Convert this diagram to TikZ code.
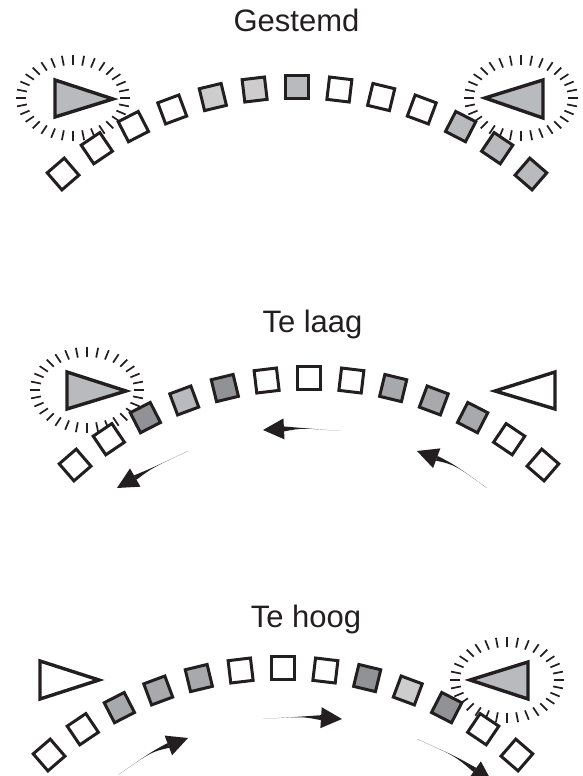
\documentclass[tikz,border=0pt]{standalone}
\usepackage{fontspec}
\setmainfont{Liberation Sans}
\usetikzlibrary{calc}

\definecolor{inkBlack}{RGB}{35,31,32}
\definecolor{paleGray}{RGB}{205,205,205}
\definecolor{blueGray}{RGB}{185,186,190}
\definecolor{midGray}{RGB}{168,169,172}
\definecolor{darkGray}{RGB}{145,146,150}

\tikzset{
  tile/.style={shape=rectangle, draw=inkBlack, line width=3pt, minimum size=22.5pt,
    inner sep=0pt, outer sep=0pt},
  marker/.style={draw=inkBlack, line width=3.4pt, line join=miter, fill=#1},
  tickmark/.style={draw=inkBlack, line width=1.7pt},
  title/.style={font=\fontsize{31}{36}\selectfont, text=inkBlack, anchor=base, inner sep=0pt},
}

% ring of short radial strokes around a marker
\newcommand\tickring[1]{%
  \begin{scope}[shift={(#1)}]
    \foreach \a in {0,11.25,...,350}
      \draw[tickmark] (\a:47 and 33) -- (\a:57 and 43);
  \end{scope}}

% thirteen tiles on an arc of radius 358 around (#2,#3)
\newcommand\tilerow[4]{%
  \begin{scope}[shift={(#2,#3)}]
    \foreach \c [count=\i] in {#4} {
      \pgfmathsetmacro\ang{90+6.8*(7-\i)}
      \node[tile, fill=\c, rotate=\ang-90] (#1\i) at (\ang:358) {};
    }
  \end{scope}}

% tapered curved arrow: tail, bend control, tip
\newcommand\swoosh[3]{%
  \coordinate (hb) at ($(#3)!21pt!(#2)$);
  \fill[inkBlack] ($(hb)!2.5pt!90:(#2)$) .. controls (#2) .. (#1)
     .. controls (#2) .. ($(hb)!2.5pt!-90:(#2)$) -- cycle;
  \fill[inkBlack] (#3) -- ($(hb)!10.5pt!90:(#2)$) -- ($(hb)!10.5pt!-90:(#2)$) -- cycle;}

\begin{document}
\begin{tikzpicture}[x=1pt, y=1pt]
\useasboundingbox (0,0) rectangle (583,776);

% ---------- Gestemd ----------
\node[title] (hdA) at (296.5,744) {Gestemd};
\tickring{73,678}
\tickring{521,678}
\tilerow{a}{297}{331}{white,white,white,white,paleGray,paleGray,blueGray,white,white,white,blueGray,blueGray,blueGray}
\draw[marker=blueGray] (55,696) -- (113,677) -- (55,659) -- cycle;
\draw[marker=blueGray] (543,696) -- (485,678) -- (543,658) -- cycle;

% ---------- Te laag ----------
\node[title] (hdB) at (312.5,443) {Te laag};
\tickring{87,386}
\tilerow{b}{309}{40}{white,white,darkGray,blueGray,darkGray,white,white,white,midGray,midGray,midGray,white,white}
\draw[marker=blueGray] (67,404) -- (126,385) -- (67,367) -- cycle;
\draw[marker=white] (555,404) -- (495,385) -- (555,367) -- cycle;

\coordinate (bmT) at (340,345); \coordinate (bmC) at (302,348); \coordinate (bmH) at (263,346);
\coordinate (blT) at (188,325); \coordinate (blC) at (152,308); \coordinate (blH) at (117,288);
\coordinate (brT) at (487,288); \coordinate (brC) at (455,311); \coordinate (brH) at (417,325);
\swoosh{bmT}{bmC}{bmH}
\swoosh{blT}{blC}{blH}
\swoosh{brT}{brC}{brH}

% ---------- Te hoog ----------
\node[title] (hdC) at (306,148) {Te hoog};
\tickring{507,96}
\tilerow{c}{283}{-250}{white,white,midGray,midGray,midGray,white,white,white,darkGray,paleGray,darkGray,white,white}
\draw[marker=white] (40,115) -- (99,96) -- (40,77) -- cycle;
\draw[marker=blueGray] (528,114) -- (470,96) -- (528,77) -- cycle;

\coordinate (cmT) at (263,57); \coordinate (cmC) at (302.5,59.5); \coordinate (cmH) at (342,57);
\coordinate (clT) at (118,1);  \coordinate (clC) at (151,24);  \coordinate (clH) at (188,38);
\coordinate (crT) at (417,37); \coordinate (crC) at (455,20);  \coordinate (crH) at (492,-6);
\swoosh{cmT}{cmC}{cmH}
\swoosh{clT}{clC}{clH}
\swoosh{crT}{crC}{crH}
\end{tikzpicture}
\end{document}
